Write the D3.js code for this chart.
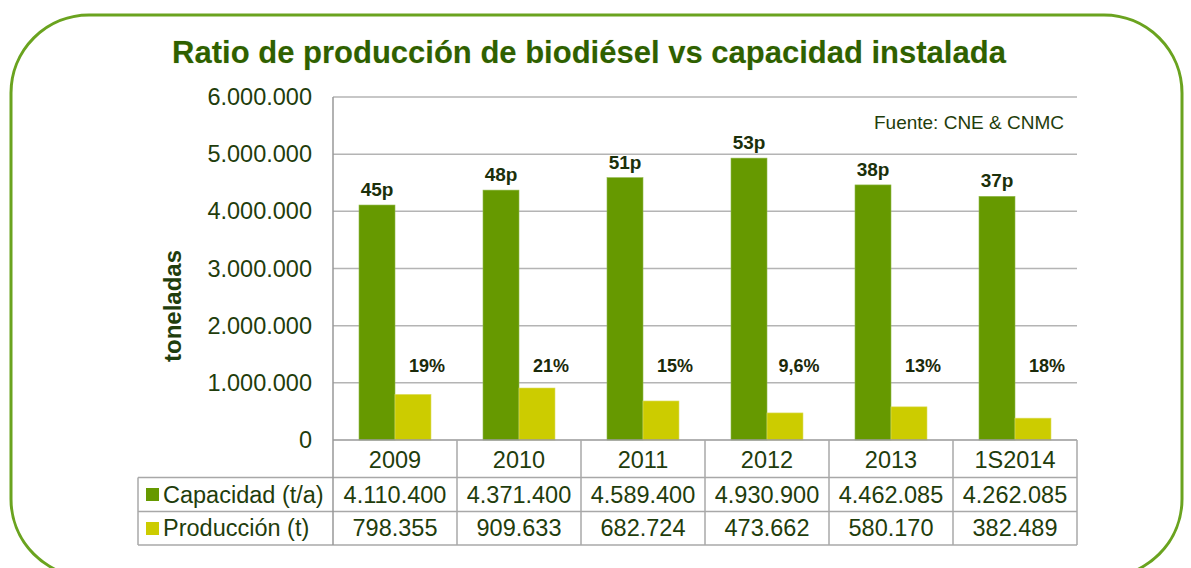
<!DOCTYPE html>
<html><head><meta charset="utf-8">
<script src="https://cdn.jsdelivr.net/npm/d3@7"></script>
<style>body{margin:0;background:#fff;} svg{display:block;font-family:Arial,"Liberation Sans",sans-serif;}</style>
</head><body>
<script>
const categories = ["2009","2010","2011","2012","2013","1S2014"];
const capacidad = [4110400,4371400,4589400,4930900,4462085,4262085];
const produccion = [798355,909633,682724,473662,580170,382489];
const plantas = ["45p","48p","51p","53p","38p","37p"];
const ratios = ["19%","21%","15%","9,6%","13%","18%"];
const yTicks = [0,1000000,2000000,3000000,4000000,5000000,6000000];
const seriesNames = ["Capacidad (t/a)","Producción (t)"];
const colors = ["#669900","#cccc00"];

(function(){
const W=1191,H=568;
const svg=d3.select("body").append("svg").attr("width",W).attr("height",H);
const fmt = v => d3.format(",")(v).replace(/,/g,".");
const txt="#1f3d0c";

svg.append("rect").attr("x",11).attr("y",15).attr("width",1171).attr("height",562).attr("rx",78)
  .attr("fill","none").attr("stroke","#6aa31f").attr("stroke-width",3);

svg.append("text").attr("x",589).attr("y",63).attr("text-anchor","middle")
  .attr("font-size",31).attr("font-weight","bold").attr("fill","#2f6000")
  .attr("stroke","#d8e8c0").attr("stroke-width",0.4).attr("paint-order","stroke")
  .text("Ratio de producción de biodiésel vs capacidad instalada");

const pL=333,pR=1077,pT=97,pB=440;
const x=d3.scaleBand().domain(categories).range([pL,pR]).padding(0);
const y=d3.scaleLinear().domain([0,6000000]).range([pB,pT]);
const bw=36;

svg.append("g").selectAll("line").data(yTicks.filter(d=>d>0)).join("line")
  .attr("x1",pL).attr("x2",pR).attr("y1",d=>y(d)).attr("y2",d=>y(d))
  .attr("stroke","#b4b4b4").attr("stroke-width",1.5);

const yAxis=d3.axisLeft(y).tickValues(yTicks).tickFormat(fmt).tickSize(0).tickPadding(21);
const ya=svg.append("g").attr("transform",`translate(${pL},0)`).call(yAxis);
ya.select(".domain").remove();
ya.selectAll("text").attr("font-size",23.5).attr("fill",txt).attr("font-family","Arial,'Liberation Sans',sans-serif");

svg.append("text").attr("transform","translate(181,306) rotate(-90)").attr("text-anchor","middle")
  .attr("font-size",24).attr("font-weight","bold").attr("fill",txt).text("toneladas");

svg.append("text").attr("x",1064).attr("y",129).attr("text-anchor","end")
  .attr("font-size",19).attr("fill",txt).text("Fuente: CNE & CNMC");

const g=svg.append("g");
g.selectAll(".cap").data(categories).join("rect")
  .attr("x",d=>x(d)+x.bandwidth()/2-bw).attr("width",bw)
  .attr("y",(d,i)=>y(capacidad[i])).attr("height",(d,i)=>pB-y(capacidad[i]))
  .attr("fill",colors[0]).attr("stroke","#8fb84a").attr("stroke-width",0.6);
g.selectAll(".prod").data(categories).join("rect")
  .attr("x",d=>x(d)+x.bandwidth()/2).attr("width",bw)
  .attr("y",(d,i)=>y(produccion[i])).attr("height",(d,i)=>pB-y(produccion[i]))
  .attr("fill",colors[1]).attr("stroke","#dede66").attr("stroke-width",0.6);

g.selectAll(".pl").data(categories).join("text")
  .attr("x",d=>x(d)+x.bandwidth()/2-bw/2).attr("y",(d,i)=>y(capacidad[i])-9)
  .attr("text-anchor","middle").attr("font-size",19).attr("font-weight","bold").attr("fill","#1b300a")
  .text((d,i)=>plantas[i]);
g.selectAll(".rt").data(categories).join("text")
  .attr("x",d=>x(d)+x.bandwidth()/2+32).attr("y",372)
  .attr("text-anchor","middle").attr("font-size",18).attr("font-weight","bold").attr("fill","#1b2a0a")
  .text((d,i)=>ratios[i]);

const r0=pB,r1=477.5,r2=511.5,r3=545,legL=138;
const lc="#a8a8a8";
const tb=svg.append("g").attr("stroke",lc).attr("stroke-width",1.5);
tb.append("line").attr("x1",pL).attr("x2",pR).attr("y1",r0).attr("y2",r0).attr("stroke","#999");
[r1,r2,r3].forEach(r=>tb.append("line").attr("x1",legL).attr("x2",pR).attr("y1",r).attr("y2",r));
tb.append("line").attr("x1",legL).attr("x2",legL).attr("y1",r1).attr("y2",r3);
tb.append("line").attr("x1",pL).attr("x2",pL).attr("y1",pT).attr("y2",r3).attr("stroke","#999");
tb.selectAll(".v").data(categories).join("line")
  .attr("x1",d=>x(d)+x.bandwidth()).attr("x2",d=>x(d)+x.bandwidth()).attr("y1",r0).attr("y2",r3);

const tt=svg.append("g").attr("font-size",23.5).attr("fill",txt).attr("text-anchor","middle");
tt.selectAll(".c").data(categories).join("text").attr("x",d=>x(d)+x.bandwidth()/2).attr("y",468).text(d=>d);
tt.selectAll(".v1").data(categories).join("text").attr("x",d=>x(d)+x.bandwidth()/2).attr("y",503).text((d,i)=>fmt(capacidad[i]));
tt.selectAll(".v2").data(categories).join("text").attr("x",d=>x(d)+x.bandwidth()/2).attr("y",536).text((d,i)=>fmt(produccion[i]));

const leg=svg.append("g");
[488,522].forEach((sy,i)=>{
  leg.append("rect").attr("x",146).attr("y",sy).attr("width",13).attr("height",13).attr("fill",colors[i]);
  leg.append("text").attr("x",163).attr("y",i===0?503:536).attr("font-size",23.5).attr("fill",txt).text(seriesNames[i]);
});
})();
</script>
</body></html>
